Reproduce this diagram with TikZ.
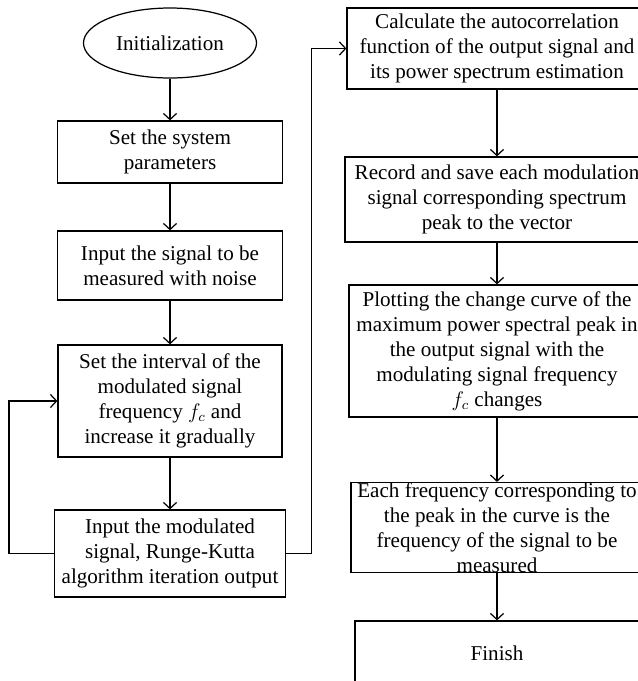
\documentclass[tikz,border=0pt]{standalone}
\usepackage{fontspec}
\setmainfont{Liberation Serif}
\usetikzlibrary{arrows.meta,shapes.geometric}

\begin{document}
\begin{tikzpicture}[font=\fontsize{12}{14.2}\selectfont,
      bx/.style={draw,line width=0.7pt,align=center,inner sep=0pt},
      oval/.style={ellipse,draw,line width=0.7pt,inner sep=0pt,
                   minimum width=3.46cm,minimum height=1.4cm}]
    \useasboundingbox (0,0) rectangle (12.76,-13.62);

    % left column
    \node[oval] (ini) at (3.40,-0.86) {Initialization};
    \node[bx,minimum width=4.5cm,minimum height=1.24cm] (par) at (3.40,-3.04) {Set the system\\parameters};
    \node[bx,minimum width=4.5cm,minimum height=1.38cm] (sig) at (3.40,-5.31) {Input the signal to be\\measured with noise};
    \node[bx,minimum width=4.48cm,minimum height=2.24cm] (frq) at (3.40,-8.02) {Set the interval of the\\modulated signal\\frequency $f_c$ and\\increase it gradually};
    \node[bx,minimum width=4.62cm,minimum height=1.74cm] (itr) at (3.40,-11.07) {Input the modulated\\signal, Runge-Kutta\\algorithm iteration output};

    % right column
    \node[bx,minimum width=6.0cm,minimum height=1.62cm]  (acf) at (9.94,-0.97) {Calculate the autocorrelation\\function of the output signal and\\its power spectrum estimation};
    \node[bx,minimum width=6.08cm,minimum height=1.70cm] (rec) at (9.94,-3.99) {Record and save each modulation\\signal corresponding spectrum\\peak to the vector};
    \node[bx,minimum width=5.92cm,minimum height=2.64cm] (plt) at (9.94,-7.02) {Plotting the change curve of the\\maximum power spectral peak in\\the output signal with the\\modulating signal frequency\\$f_c$ changes};
    \node[bx,minimum width=5.84cm,minimum height=1.74cm] (pk)  at (9.94,-10.55) {Each frequency corresponding to\\the peak in the curve is the\\frequency of the signal to be\\measured};
    \node[bx,minimum width=5.68cm,minimum height=1.3cm]  (fin) at (9.94,-13.07) {Finish};

    \foreach \a/\b in {ini/par,par/sig,sig/frq,frq/itr,acf/rec,rec/plt,plt/pk,pk/fin}
      \draw[-{Straight Barb[length=3.5pt,width=7.5pt]},line width=0.7pt] (\a) -- (\b);
    \draw[-{Straight Barb[length=3.5pt,width=7.5pt]},line width=0.7pt] (itr.west) -- ++(-0.9,0) |- (frq.west);
    \draw[-{Straight Barb[length=3.5pt,width=7.5pt]},line width=0.7pt] (itr.east) -- ++(0.5,0) |- (acf.west);
  \end{tikzpicture}
\end{document}
